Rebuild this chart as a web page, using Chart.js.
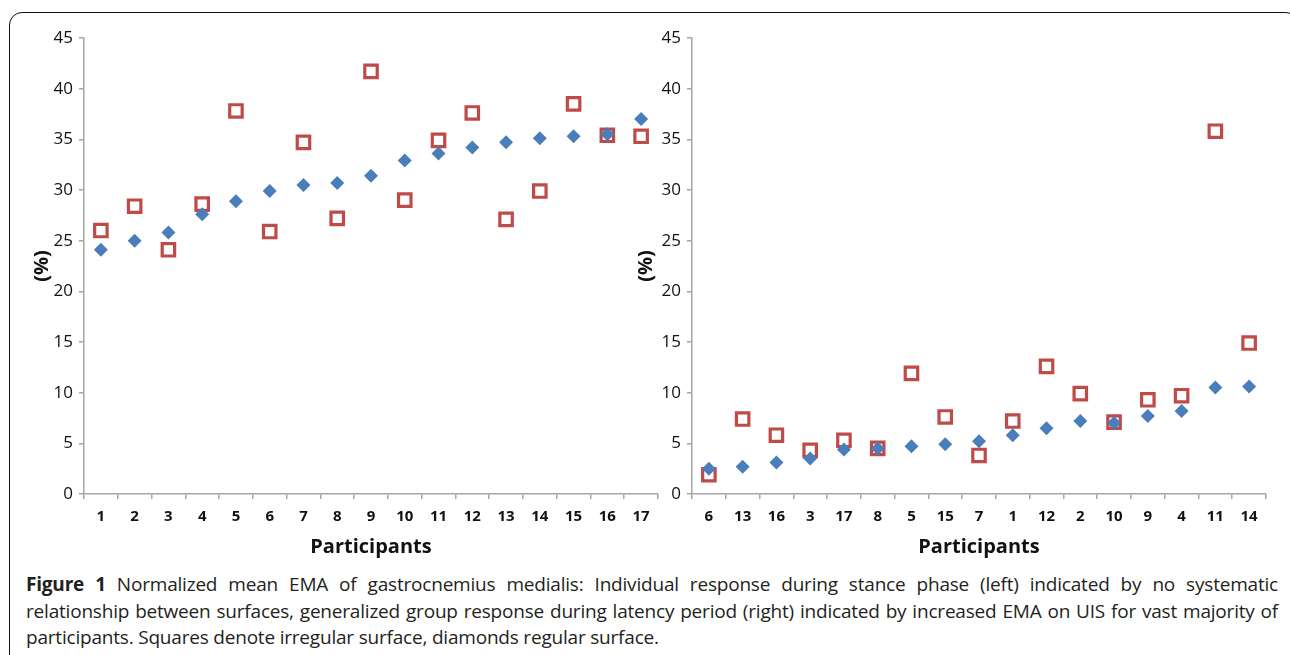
<!DOCTYPE html>
<html>
<head>
<meta charset="utf-8">
<script src="https://cdn.jsdelivr.net/npm/chart.js@4"></script>
<style>
  body { margin:0; background:#fff; width:1290px; height:655px; overflow:hidden; position:relative; font-family:"Open Sans", sans-serif; }
  #frame { position:absolute; left:9px; top:12px; width:1290px; height:700px; border:1.5px solid #111; border-radius:13px; box-sizing:border-box; }
  .box { position:absolute; top:20px; width:670px; height:545px; }
  #leftBox { left:0px; }
  #rightBox { left:608px; }
  #caption { position:absolute; left:26px; top:571px; width:1252px; font-size:19px; line-height:26.5px; color:#231f20; letter-spacing:-0.2px; }
  #caption span { display:block; white-space:nowrap; }
  #caption span.full { text-align:justify; text-align-last:justify; }
  #caption b { font-weight:700; }
</style>
</head>
<body>
<div id="frame"></div>
<div class="box" id="leftBox"><canvas id="leftChart"></canvas></div>
<div class="box" id="rightBox"><canvas id="rightChart"></canvas></div>
<div id="caption"><span class="full"><b>Figure 1</b> Normalized mean EMA of gastrocnemius medialis: Individual response during stance phase (left) indicated by no systematic</span><span class="full">relationship between surfaces, generalized group response during latency period (right) indicated by increased EMA on UIS for vast majority of</span><span>participants. Squares denote irregular surface, diamonds regular surface.</span></div>
<script>
// left panel: stance phase
let leftLabels=['1','2','3','4','5','6','7','8','9','10','11','12','13','14','15','16','17'];
let leftRegular=[24.1,25.0,25.8,27.6,28.9,29.9,30.5,30.7,31.4,32.9,33.6,34.2,34.7,35.1,35.3,35.5,37.0];
let leftIrregular=[26.0,28.4,24.1,28.6,37.8,25.9,34.7,27.2,41.7,29.0,34.9,37.6,27.1,29.9,38.5,35.4,35.3];

// right panel: latency period
let rightLabels=['6','13','16','3','17','8','5','15','7','1','12','2','10','9','4','11','14'];
let rightRegular=[2.5,2.7,3.1,3.5,4.4,4.5,4.7,4.9,5.2,5.8,6.5,7.2,7.0,7.7,8.2,10.5,10.6];
let rightIrregular=[1.9,7.4,5.8,4.3,5.3,4.5,11.9,7.6,3.8,7.2,12.6,9.9,7.1,9.3,9.7,35.8,14.9];

let yTicks=[0,5,10,15,20,25,30,35,40,45];

function makeChart(id, labels, regular, irregular, padLeft, yWidth){
  let ctx=document.getElementById(id).getContext('2d');
  return new Chart(ctx, {
    type:'line',
    data:{
      labels:labels,
      datasets:[{
        label:'Regular surface',
        data:regular,
        showLine:false,
        pointStyle:'rectRot',
        pointRadius:7,
        pointBackgroundColor:'#4a7ebb',
        pointBorderColor:'#4a7ebb',
        pointBorderWidth:0
      },{
        label:'Irregular surface',
        data:irregular,
        showLine:false,
        pointStyle:'rect',
        pointRadius:8.8,
        pointBackgroundColor:'#ffffff',
        pointBorderColor:'#be4b48',
        pointBorderWidth:3.2
      }]
    },
    options:{
      responsive:true,
      maintainAspectRatio:false,
      animation:false,
      layout:{ padding:{ left:padLeft, right:12, top:18, bottom:0 } },
      plugins:{ legend:{ display:false }, tooltip:{ enabled:false } },
      scales:{
        x:{
          offset:true,
          grid:{ offset:true, drawOnChartArea:false, tickLength:5, color:'#a6a6a6', lineWidth:1.5 },
          border:{ color:'#a6a6a6', width:1.5 },
          ticks:{ color:'#111', padding:9, font:{ family:'Open Sans', size:15, weight:'bold' }, maxRotation:0, autoSkip:false },
          title:{ display:true, text:'Participants', color:'#111', font:{ family:'Open Sans', size:20, weight:'bold' }, padding:{ top:4, bottom:6 } },
          afterFit:function(s){ s.height=71; }
        },
        y:{
          min:0,
          max:45,
          afterBuildTicks:function(s){ s.ticks=yTicks.map(function(v){ return {value:v}; }); },
          grid:{ drawOnChartArea:false, tickLength:5, color:'#a6a6a6', lineWidth:1.5 },
          border:{ color:'#a6a6a6', width:1.5 },
          ticks:{ color:'#111', padding:6, font:{ family:'Open Sans', size:17 } },
          title:{ display:true, text:'(%)', color:'#111', font:{ family:'Open Sans', size:20, weight:'bold' }, padding:{ top:0, bottom:0 } },
          afterFit:function(s){ s.width=yWidth; }
        }
      }
    }
  });
}

let leftChart=makeChart('leftChart', leftLabels, leftRegular, leftIrregular, 30, 54);
let rightChart=makeChart('rightChart', rightLabels, rightRegular, rightIrregular, 26, 58);
</script>
</body>
</html>
